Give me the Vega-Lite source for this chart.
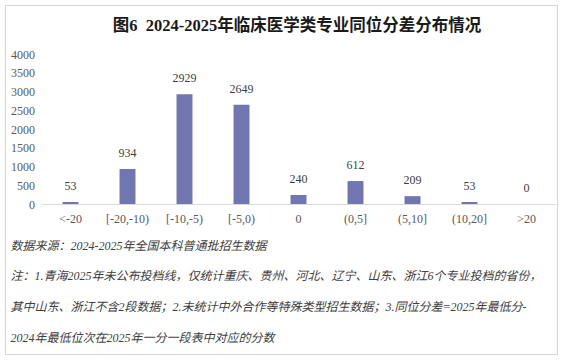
{
  "$schema": "https://vega.github.io/schema/vega-lite/v6.json",
  "width": 552,
  "height": 349,
  "autosize": {"type": "none"},
  "padding": {"left": 5, "top": 5, "right": 4, "bottom": 7},
  "background": "white",
  "config": {
    "view": {"stroke": "#d4d4d4", "strokeWidth": 1},
    "font": "'Liberation Serif', 'Noto Sans CJK SC', serif"
  },
  "title": {
    "text": "图6\u00a0\u00a02024-2025年临床医学类专业同位分差分布情况",
    "font": "'Liberation Serif', 'Noto Sans CJK SC', serif",
    "fontSize": 16.5,
    "fontWeight": "bold",
    "color": "#1a1a1a",
    "anchor": "middle",
    "frame": "group",
    "baseline": "middle",
    "offset": 0,
    "dx": 16,
    "dy": 37
  },
  "data": {
    "values": [
      {"range": "<-20", "count": 53},
      {"range": "[-20,-10)", "count": 934},
      {"range": "[-10,-5)", "count": 2929},
      {"range": "[-5,0)", "count": 2649},
      {"range": "0", "count": 240},
      {"range": "(0,5]", "count": 612},
      {"range": "(5,10]", "count": 209},
      {"range": "(10,20]", "count": 53},
      {"range": ">20", "count": 0}
    ]
  },
  "encoding": {
    "x": {
      "field": "range",
      "type": "nominal",
      "sort": null,
      "scale": {"range": [37, 550], "paddingInner": 0.72, "paddingOuter": 0.36},
      "axis": {
        "title": [
          "数据来源：2024-2025年全国本科普通批招生数据",
          "注：1.青海2025年未公布投档线，仅统计重庆、贵州、河北、辽宁、山东、浙江6个专业投档的省份，",
          "其中山东、浙江不含2段数据；2.未统计中外合作等特殊类型招生数据；3.同位分差=2025年最低分-",
          "2024年最低位次在2025年一分一段表中对应的分数"
        ],
        "orient": "bottom",
        "offset": -150,
        "domainColor": "#d9d9d9",
        "ticks": false,
        "labelPadding": 9,
        "labelFontSize": 12,
        "labelColor": "#595959",
        "labelAngle": 0,
        "labelFont": "'Liberation Serif', 'Noto Sans CJK SC', serif",
        "titleX": 5,
        "titleY": 36,
        "titleAlign": "left",
        "titleBaseline": "top",
        "titleAngle": 0,
        "titleFontSize": 12,
        "titleFontStyle": "italic",
        "titleFontWeight": "normal",
        "titleColor": "#404040",
        "titleLineHeight": 30.7,
        "titleFont": "'Liberation Serif', 'Noto Sans CJK SC', serif"
      }
    },
    "y": {
      "field": "count",
      "type": "quantitative",
      "scale": {"domain": [0, 4000], "range": [199, 49], "nice": false},
      "axis": {
        "title": null,
        "domain": false,
        "ticks": false,
        "grid": false,
        "offset": -29.5,
        "labelPadding": 0,
        "labelFontSize": 12,
        "labelColor": "#595959",
        "labelFont": "'Liberation Serif', 'Noto Sans CJK SC', serif",
        "format": "d",
        "values": [0, 500, 1000, 1500, 2000, 2500, 3000, 3500, 4000]
      }
    }
  },
  "layer": [
    {"mark": {"type": "bar", "color": "#7276B0"}},
    {
      "mark": {"type": "text", "baseline": "alphabetic", "dy": -12, "fontSize": 12, "color": "#404040", "font": "'Liberation Serif', 'Noto Sans CJK SC', serif"},
      "encoding": {"text": {"field": "count", "type": "quantitative", "format": "d"}}
    }
  ]
}
